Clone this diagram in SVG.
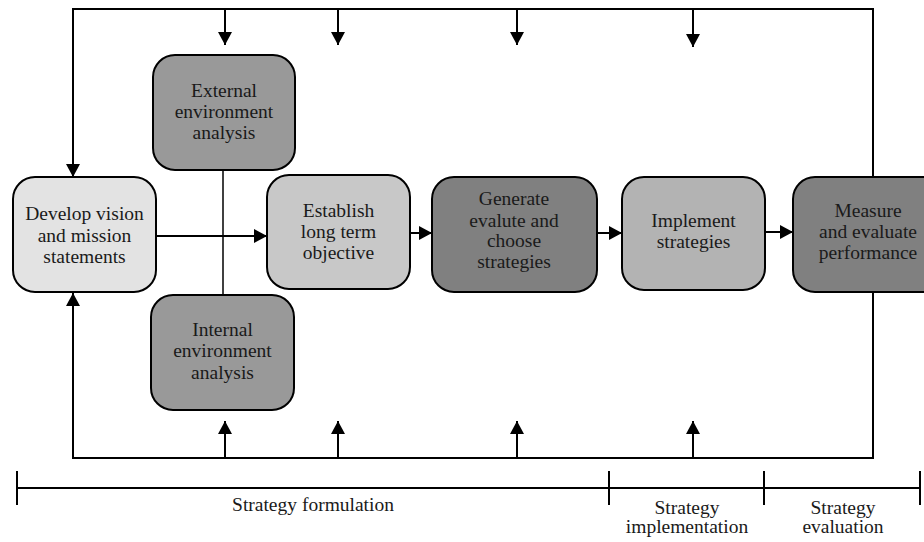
<svg xmlns="http://www.w3.org/2000/svg" width="924" height="542" viewBox="0 0 924 542">
  <style>
    .box { stroke: #000; stroke-width: 2; }
    .lbl { font-family: "Liberation Serif", "Times New Roman", serif; font-size: 19.5px; fill: #1a1a1a; text-anchor: middle; }
    .ln { fill: none; stroke: #000; stroke-width: 2; }
    .thin { fill: none; stroke: #000; stroke-width: 1.5; }
  </style>
  <defs>
    <marker id="arrow" markerUnits="userSpaceOnUse" markerWidth="14" markerHeight="14" refX="13" refY="7" orient="auto">
      <path d="M0,0 L13,7 L0,14 Z" fill="#000"/>
    </marker>
  </defs>
  <rect width="924" height="542" fill="#fff"/>

  <!-- connectors -->
  <g id="connectors">
    <!-- top feedback loop -->
    <polyline class="ln" points="873,177 873,9 73,9 73,177" marker-end="url(#arrow)"/>
    <line class="ln" x1="225" y1="9" x2="225" y2="45" marker-end="url(#arrow)"/>
    <line class="ln" x1="338" y1="9" x2="338" y2="45" marker-end="url(#arrow)"/>
    <line class="ln" x1="517" y1="9" x2="517" y2="45" marker-end="url(#arrow)"/>
    <line class="ln" x1="693" y1="9" x2="693" y2="47" marker-end="url(#arrow)"/>
    <!-- bottom feedback loop -->
    <polyline class="ln" points="873,292 873,458 73,458 73,293" marker-end="url(#arrow)"/>
    <line class="ln" x1="225" y1="458" x2="225" y2="421" marker-end="url(#arrow)"/>
    <line class="ln" x1="338" y1="458" x2="338" y2="421" marker-end="url(#arrow)"/>
    <line class="ln" x1="517" y1="458" x2="517" y2="421" marker-end="url(#arrow)"/>
    <line class="ln" x1="693" y1="458" x2="693" y2="421" marker-end="url(#arrow)"/>
    <!-- external / internal link -->
    <line class="thin" x1="223" y1="170" x2="223" y2="295"/>
    <!-- main flow -->
    <line class="ln" x1="156" y1="236" x2="267" y2="236" marker-end="url(#arrow)"/>
    <line class="ln" x1="410" y1="233" x2="432" y2="233" marker-end="url(#arrow)"/>
    <line class="ln" x1="597" y1="233" x2="622" y2="233" marker-end="url(#arrow)"/>
    <line class="ln" x1="765" y1="232" x2="793" y2="232" marker-end="url(#arrow)"/>
  </g>

  <g id="develop">
    <rect class="box" x="13" y="177" width="143" height="115" rx="22" fill="#e3e3e3"/>
    <text class="lbl" x="84.5" y="220">Develop vision</text>
    <text class="lbl" x="84.5" y="242">and mission</text>
    <text class="lbl" x="84.5" y="263">statements</text>
  </g>

  <g id="external">
    <rect class="box" x="153" y="55" width="142" height="115" rx="22" fill="#999"/>
    <text class="lbl" x="224" y="97">External</text>
    <text class="lbl" x="224" y="118">environment</text>
    <text class="lbl" x="224" y="139">analysis</text>
  </g>

  <g id="internal">
    <rect class="box" x="151" y="295" width="143" height="115" rx="22" fill="#999"/>
    <text class="lbl" x="222.5" y="336">Internal</text>
    <text class="lbl" x="222.5" y="357">environment</text>
    <text class="lbl" x="222.5" y="379">analysis</text>
  </g>

  <g id="establish">
    <rect class="box" x="267" y="175" width="143" height="114" rx="22" fill="#c8c8c8"/>
    <text class="lbl" x="338.5" y="217">Establish</text>
    <text class="lbl" x="338.5" y="238">long term</text>
    <text class="lbl" x="338.5" y="259">objective</text>
  </g>

  <g id="generate">
    <rect class="box" x="432" y="177" width="165" height="115" rx="22" fill="#808080"/>
    <text class="lbl" x="514" y="205">Generate</text>
    <text class="lbl" x="514" y="227">evalute and</text>
    <text class="lbl" x="514" y="247">choose</text>
    <text class="lbl" x="514" y="268">strategies</text>
  </g>

  <g id="implement">
    <rect class="box" x="622" y="177" width="143" height="113" rx="22" fill="#b3b3b3"/>
    <text class="lbl" x="693.5" y="227">Implement</text>
    <text class="lbl" x="693.5" y="248">strategies</text>
  </g>

  <g id="measure">
    <rect class="box" x="793" y="177" width="152" height="115" rx="22" fill="#808080"/>
    <text class="lbl" x="868" y="217">Measure</text>
    <text class="lbl" x="868" y="238">and evaluate</text>
    <text class="lbl" x="868" y="259">performance</text>
  </g>

  <g id="timeline">
    <line class="ln" x1="17" y1="488" x2="921" y2="488"/>
    <line class="ln" x1="17" y1="471" x2="17" y2="505"/>
    <line class="ln" x1="609" y1="471" x2="609" y2="505"/>
    <line class="ln" x1="764" y1="471" x2="764" y2="505"/>
    <line class="ln" x1="920" y1="471" x2="920" y2="505"/>
    <text class="lbl" x="313" y="511">Strategy formulation</text>
    <text class="lbl" x="687" y="514">Strategy</text>
    <text class="lbl" x="687" y="533">implementation</text>
    <text class="lbl" x="843" y="514">Strategy</text>
    <text class="lbl" x="843" y="533">evaluation</text>
  </g>
</svg>
